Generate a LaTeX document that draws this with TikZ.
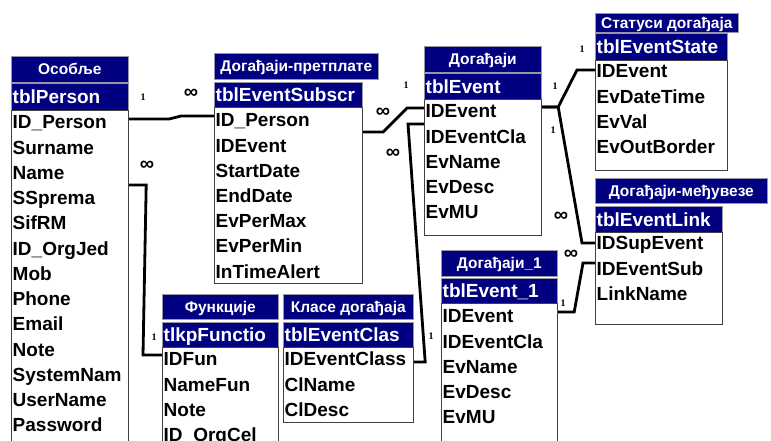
\documentclass[tikz,border=0pt]{standalone}
\usepackage{fontspec}
\setmainfont{Liberation Sans}
\newfontfamily\lblserif{Liberation Serif}
\definecolor{accnavy}{RGB}{0,0,128}
\definecolor{edgegray}{RGB}{150,150,165}
\tikzset{
  ttl/.style={draw=edgegray, line width=0.6pt, fill=accnavy, text=white,
    font=\bfseries\fontsize{15.5pt}{15.5pt}\selectfont, inner sep=0pt,
    anchor=north west, text height=11pt, text depth=0pt},
  hdr/.style={draw=edgegray, line width=0.6pt, fill=accnavy, inner sep=0pt, anchor=north west},
  hdrtxt/.style={text=white, font=\bfseries\fontsize{19pt}{19pt}\selectfont,
    inner xsep=1.5pt, inner ysep=0pt, anchor=west, text height=13.6pt, text depth=0pt},
  bodybox/.style={draw=black!75, line width=1.2pt, fill=white, inner sep=0pt, anchor=north west},
  fld/.style={font=\bfseries\fontsize{19pt}{19pt}\selectfont, inner sep=0pt, anchor=base west},
  rel/.style={line width=2.8pt, line join=miter},
  one/.style={font=\lblserif\bfseries\fontsize{10pt}{10pt}\selectfont, inner sep=0pt},
  many/.style={font=\bfseries\fontsize{20pt}{20pt}\selectfont, inner sep=0pt},
}
\begin{document}
\begin{tikzpicture}[x=1pt,y=-1pt]
\useasboundingbox (0,0) rectangle (771,440);
\fill[white] (0,0) rectangle (771,440);
\clip (0,0) rectangle (771,440);

% ---- tblPerson
\node[ttl, minimum width=117pt, minimum height=26pt] (pT) at (11,56) {Особље};
\node[hdr, minimum width=117pt, minimum height=27pt] (pH) at (11,83) {};
\node[hdrtxt] (pHt) at (pH.west) {tblPerson};
\node[bodybox, minimum width=117pt, minimum height=360pt] (pB) at (11,110) {};
\foreach \t [count=\i] in {ID\_Person,Surname,Name,SSprema,SifRM,ID\_OrgJed,Mob,Phone,Email,Note,SystemNam,UserName,Password}
  \node[fld] (pF\i) at (12.5,{128.8+25.25*(\i-1)}) {\t};

% ---- tblEventSubscr
\node[ttl, minimum width=164pt, minimum height=26pt] (sT) at (214,53) {Догађаји-претплате};
\node[hdr, minimum width=148pt, minimum height=25pt] (sH) at (214,82) {};
\node[hdrtxt] (sHt) at (sH.west) {tblEventSubscr};
\node[bodybox, minimum width=148pt, minimum height=176pt] (sB) at (214,107) {};
\foreach \t [count=\i] in {ID\_Person,IDEvent,StartDate,EndDate,EvPerMax,EvPerMin,InTimeAlert}
  \node[fld] (sF\i) at (215.5,{126.8+25.2*(\i-1)}) {\t};

% ---- tblEvent
\node[ttl, minimum width=117pt, minimum height=26pt] (eT) at (424,46) {Догађаји};
\node[hdr, minimum width=117pt, minimum height=26pt] (eH) at (424,73) {};
\node[hdrtxt] (eHt) at (eH.west) {tblEvent};
\node[bodybox, minimum width=117pt, minimum height=136pt] (eB) at (424,99) {};
\foreach \t [count=\i] in {IDEvent,IDEventCla,EvName,EvDesc,EvMU}
  \node[fld] (eF\i) at (425.5,{117.8+25.25*(\i-1)}) {\t};

% ---- tblEventState
\node[ttl, minimum width=143pt, minimum height=19pt] (stT) at (595,13) {Статуси догађаја};
\node[hdr, minimum width=132pt, minimum height=27pt] (stH) at (595,33) {};
\node[hdrtxt] (stHt) at (stH.west) {tblEventState};
\node[bodybox, minimum width=132pt, minimum height=110pt] (stB) at (595,60) {};
\foreach \t [count=\i] in {IDEvent,EvDateTime,EvVal,EvOutBorder}
  \node[fld] (stF\i) at (596.5,{77.8+25.3*(\i-1)}) {\t};

% ---- tblEventLink
\node[ttl, minimum width=172pt, minimum height=25pt] (lT) at (595,178) {Догађаји-међувезе};
\node[hdr, minimum width=127pt, minimum height=26pt] (lH) at (595,206) {};
\node[hdrtxt] (lHt) at (lH.west) {tblEventLink};
\node[bodybox, minimum width=127pt, minimum height=92pt] (lB) at (595,232) {};
\foreach \t [count=\i] in {IDSupEvent,IDEventSub,LinkName}
  \node[fld] (lF\i) at (596.5,{249.8+25.3*(\i-1)}) {\t};

% ---- tblEvent_1
\node[ttl, minimum width=116pt, minimum height=26pt] (e1T) at (441,250) {Догађаји\_1};
\node[hdr, minimum width=116pt, minimum height=25pt] (e1H) at (441,278) {};
\node[hdrtxt] (e1Ht) at (e1H.west) {tblEvent\_1};
\node[bodybox, minimum width=116pt, minimum height=170pt] (e1B) at (441,303) {};
\foreach \t [count=\i] in {IDEvent,IDEventCla,EvName,EvDesc,EvMU}
  \node[fld] (e1F\i) at (442.5,{322.8+25.25*(\i-1)}) {\t};

% ---- tlkpFunctio
\node[ttl, minimum width=116pt, minimum height=25pt] (fT) at (162,294) {Функције};
\node[hdr, minimum width=116pt, minimum height=25pt] (fH) at (162,322) {};
\node[hdrtxt] (fHt) at (fH.west) {tlkpFunctio};
\node[bodybox, minimum width=116pt, minimum height=130pt] (fB) at (162,347) {};
\foreach \t [count=\i] in {IDFun,NameFun,Note,ID\_OrgCel}
  \node[fld] (fF\i) at (163.5,{365.8+25.25*(\i-1)}) {\t};

% ---- tblEventClas
\node[ttl, minimum width=130pt, minimum height=25pt] (cT) at (283,294) {Класе догађаја};
\node[hdr, minimum width=130pt, minimum height=25pt] (cH) at (283,322) {};
\node[hdrtxt] (cHt) at (cH.west) {tblEventClas};
\node[bodybox, minimum width=130pt, minimum height=75pt] (cB) at (283,347) {};
\foreach \t [count=\i] in {IDEventClass,ClName,ClDesc}
  \node[fld] (cF\i) at (284.5,{365.8+25.25*(\i-1)}) {\t};

% ---- relationships
\draw[rel] ([yshift=-9pt]pB.north east) -- ++(40,0) -- ++(12,-3) -- ([yshift=-9pt]sB.north west);
\draw[rel] ([yshift=-75pt]pB.north east) -- ++(17,0) -- ([xshift=-19pt,yshift=-8pt]fB.north west) -- ([yshift=-8pt]fB.north west);
\draw[rel] ([yshift=-25pt]sB.north east) -- ++(20,0) -- ([xshift=-17pt,yshift=-9pt]eB.north west) -- ([yshift=-9pt]eB.north west);
\draw[rel] ([yshift=-25pt]eB.north west) -- ++(-16,0) -- ([xshift=11pt,yshift=-15pt]cB.north east) -- ([yshift=-15pt]cB.north east);
\draw[rel] ([yshift=-8pt]eB.north east) -- ++(16,0) -- ([xshift=-18pt,yshift=-10pt]stB.north west) -- ([yshift=-10pt]stB.north west);
\draw[rel] ([yshift=-8pt]eB.north east) -- ++(16,0) -- ([xshift=-13pt,yshift=-11pt]lB.north west) -- ([yshift=-11pt]lB.north west);
\draw[rel] ([yshift=-9pt]e1B.north east) -- ++(16,0) -- ([xshift=-12pt,yshift=-31pt]lB.north west) -- ([yshift=-31pt]lB.north west);

% ---- cardinality labels
\node[one] (r1a) at (143,97) {1};
\node[many] (r1b) at (191,94) {∞};
\node[many] (r2a) at (147,166) {∞};
\node[one] (r2b) at (154,337) {1};
\node[many] (r3a) at (383,113) {∞};
\node[one] (r3b) at (406,85) {1};
\node[many] (r4a) at (393,154) {∞};
\node[one] (r4b) at (431,336) {1};
\node[one] (r5a) at (555,86) {1};
\node[one] (r5b) at (582,49) {1};
\node[one] (r6a) at (553,130) {1};
\node[many] (r6b) at (561,217) {∞};
\node[one] (r7a) at (563,303) {1};
\node[many] (r7b) at (571,255) {∞};
\end{tikzpicture}
\end{document}
